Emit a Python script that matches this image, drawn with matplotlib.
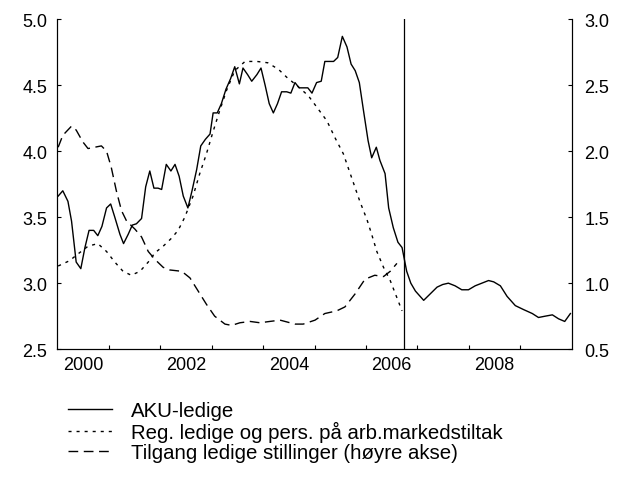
import numpy as np
import matplotlib
matplotlib.use('Agg')
import matplotlib.pyplot as plt
from matplotlib.ticker import FixedLocator, FixedFormatter, FormatStrFormatter

plt.rcParams['font.family'] = ['Liberation Sans', 'DejaVu Sans']

# AKU-ledige (left axis), decimal years
aku_x = [2000.02, 2000.11, 2000.21, 2000.28, 2000.37, 2000.46, 2000.54, 2000.62, 2000.71, 2000.79,
         2000.87, 2000.96, 2001.04, 2001.12, 2001.22, 2001.29, 2001.38, 2001.46, 2001.54, 2001.64,
         2001.72, 2001.80, 2001.88, 2001.96, 2002.03, 2002.12, 2002.21, 2002.29, 2002.37, 2002.45,
         2002.54, 2002.62, 2002.71, 2002.79, 2002.88, 2002.97, 2003.03, 2003.11, 2003.19, 2003.28,
         2003.37, 2003.45, 2003.54, 2003.61, 2003.70, 2003.78, 2003.88, 2003.96, 2004.04, 2004.12,
         2004.20, 2004.28, 2004.36, 2004.46, 2004.54, 2004.62, 2004.70, 2004.78, 2004.87, 2004.95,
         2005.04, 2005.13, 2005.20, 2005.29, 2005.37, 2005.45, 2005.54, 2005.63, 2005.71, 2005.79,
         2005.87, 2005.95, 2006.04, 2006.11, 2006.20, 2006.27, 2006.37, 2006.44, 2006.53, 2006.62,
         2006.70, 2006.75, 2006.79, 2006.87, 2006.96, 2007.12, 2007.25, 2007.38, 2007.49, 2007.60,
         2007.73, 2007.86, 2007.99, 2008.12, 2008.25, 2008.38, 2008.48, 2008.61, 2008.74, 2008.90,
         2009.06, 2009.23, 2009.35, 2009.48, 2009.62, 2009.74, 2009.86, 2009.97]
aku_y = [3.66, 3.70, 3.62, 3.47, 3.16, 3.11, 3.27, 3.40, 3.40, 3.36,
         3.43, 3.57, 3.60, 3.50, 3.37, 3.30, 3.37, 3.44, 3.45, 3.49,
         3.73, 3.85, 3.72, 3.72, 3.71, 3.90, 3.85, 3.90, 3.81, 3.66,
         3.57, 3.70, 3.86, 4.04, 4.09, 4.13, 4.29, 4.29, 4.36, 4.47,
         4.55, 4.64, 4.51, 4.63, 4.58, 4.53, 4.58, 4.63, 4.50, 4.36,
         4.29, 4.36, 4.45, 4.45, 4.44, 4.52, 4.48, 4.48, 4.48, 4.44,
         4.52, 4.53, 4.68, 4.68, 4.68, 4.71, 4.87, 4.79, 4.66, 4.61,
         4.52, 4.31, 4.08, 3.95, 4.03, 3.93, 3.83, 3.57, 3.42, 3.31,
         3.27, 3.17, 3.09, 3.00, 2.94, 2.87, 2.92, 2.97, 2.99, 3.00,
         2.98, 2.95, 2.95, 2.98, 3.00, 3.02, 3.01, 2.98, 2.90, 2.83,
         2.80, 2.77, 2.74, 2.75, 2.76, 2.73, 2.71, 2.77]

# Reg. ledige og pers. på arb.markedstiltak (left axis)
reg_x = [2000.02, 2000.24, 2000.40, 2000.60, 2000.79, 2000.96, 2001.12, 2001.28, 2001.44, 2001.61,
         2001.77, 2001.90, 2002.06, 2002.22, 2002.35, 2002.48, 2002.64, 2002.77, 2002.90, 2003.03,
         2003.16, 2003.29, 2003.45, 2003.65, 2003.88, 2004.09, 2004.30, 2004.46, 2004.68, 2004.88,
         2005.07, 2005.24, 2005.40, 2005.56, 2005.72, 2005.88, 2006.02, 2006.11, 2006.21, 2006.34,
         2006.47, 2006.60, 2006.70]
reg_y = [3.13, 3.17, 3.22, 3.28, 3.30, 3.24, 3.16, 3.09, 3.06, 3.09,
         3.16, 3.23, 3.28, 3.34, 3.40, 3.50, 3.66, 3.83, 3.98, 4.15,
         4.31, 4.46, 4.61, 4.68, 4.68, 4.67, 4.62, 4.56, 4.49, 4.42,
         4.32, 4.23, 4.10, 3.98, 3.80, 3.62, 3.48, 3.37, 3.24, 3.12,
         3.02, 2.89, 2.79]

# Tilgang ledige stillinger (right axis)
vac_x = [2000.02, 2000.11, 2000.28, 2000.37, 2000.50, 2000.60, 2000.73, 2000.86, 2000.96, 2001.05,
         2001.15, 2001.25, 2001.35, 2001.51, 2001.64, 2001.77, 2001.90, 2002.06, 2002.19, 2002.42,
         2002.58, 2002.74, 2002.90, 2003.06, 2003.26, 2003.39, 2003.55, 2003.75, 2003.94, 2004.13,
         2004.33, 2004.62, 2004.78, 2005.01, 2005.20, 2005.43, 2005.59, 2005.79, 2005.98, 2006.17,
         2006.34, 2006.47, 2006.60]
vac_y = [2.03, 2.12, 2.19, 2.16, 2.07, 2.02, 2.03, 2.04, 2.00, 1.88,
         1.70, 1.55, 1.47, 1.41, 1.35, 1.24, 1.18, 1.12, 1.10, 1.09,
         1.04, 0.94, 0.84, 0.75, 0.69, 0.68, 0.70, 0.71, 0.70, 0.71,
         0.72, 0.69, 0.69, 0.72, 0.77, 0.79, 0.82, 0.92, 1.03, 1.06,
         1.05, 1.09, 1.15]

forecast_start = 2006.74
year_ticks = list(range(2001, 2010))
year_labels = ['2000', '2002', '2004', '2006', '2008']
left_ticks = [2.5, 3.0, 3.5, 4.0, 4.5, 5.0]
right_ticks = [0.5, 1.0, 1.5, 2.0, 2.5, 3.0]

fig = plt.figure(figsize=(6.21, 4.81), dpi=100)
ax = fig.add_axes([0.092, 0.272, 0.829, 0.686])
ax2 = ax.twinx()

l1, = ax.plot(aku_x, aku_y, color='black', linewidth=1.0, label='AKU-ledige')
l2, = ax.plot(reg_x, reg_y, color='black', linewidth=1.0, linestyle=(0, (2.2, 3.6)),
              label='Reg. ledige og pers. på arb.markedstiltak')
l3, = ax2.plot(vac_x, vac_y, color='black', linewidth=1.0, linestyle=(0, (7, 4)),
               label='Tilgang ledige stillinger (høyre akse)')
ax.axvline(forecast_start, color='black', linewidth=0.9)

ax.set_xlim(2000, 2010)
ax.set_ylim(2.5, 5.0)
ax2.set_ylim(0.5, 3.0)

# year ticks at year boundaries, labels centred on the year
ax.xaxis.set_major_locator(FixedLocator(year_ticks))
ax.xaxis.set_major_formatter(FixedFormatter([''] * len(year_ticks)))
ax.xaxis.set_minor_locator(FixedLocator([int(y) + 0.5 for y in year_labels]))
ax.xaxis.set_minor_formatter(FixedFormatter(year_labels))
ax.tick_params(axis='x', which='major', direction='in', length=3, width=0.8)
ax.tick_params(axis='x', which='minor', length=0, pad=5, labelsize=13)

ax.set_yticks(left_ticks)
ax.yaxis.set_major_formatter(FormatStrFormatter('%.1f'))
ax.tick_params(axis='y', direction='in', length=3, width=0.8, pad=7, labelsize=13)
ax2.set_yticks(right_ticks)
ax2.yaxis.set_major_formatter(FormatStrFormatter('%.1f'))
ax2.tick_params(axis='y', direction='in', length=3, width=0.8, pad=9, labelsize=13)

for a in (ax, ax2):
    a.spines['top'].set_visible(False)
    for s in ('left', 'right', 'bottom'):
        a.spines[s].set_linewidth(0.8)

fig.legend(handles=[l1, l2, l3], loc='upper left', bbox_to_anchor=(0.1095, 0.164),
           bbox_transform=fig.transFigure, frameon=False, fontsize=14.7,
           handlelength=2.15, handletextpad=0.93, labelspacing=0.04,
           borderpad=0, borderaxespad=0)

fig.savefig('out.png', dpi=100)
